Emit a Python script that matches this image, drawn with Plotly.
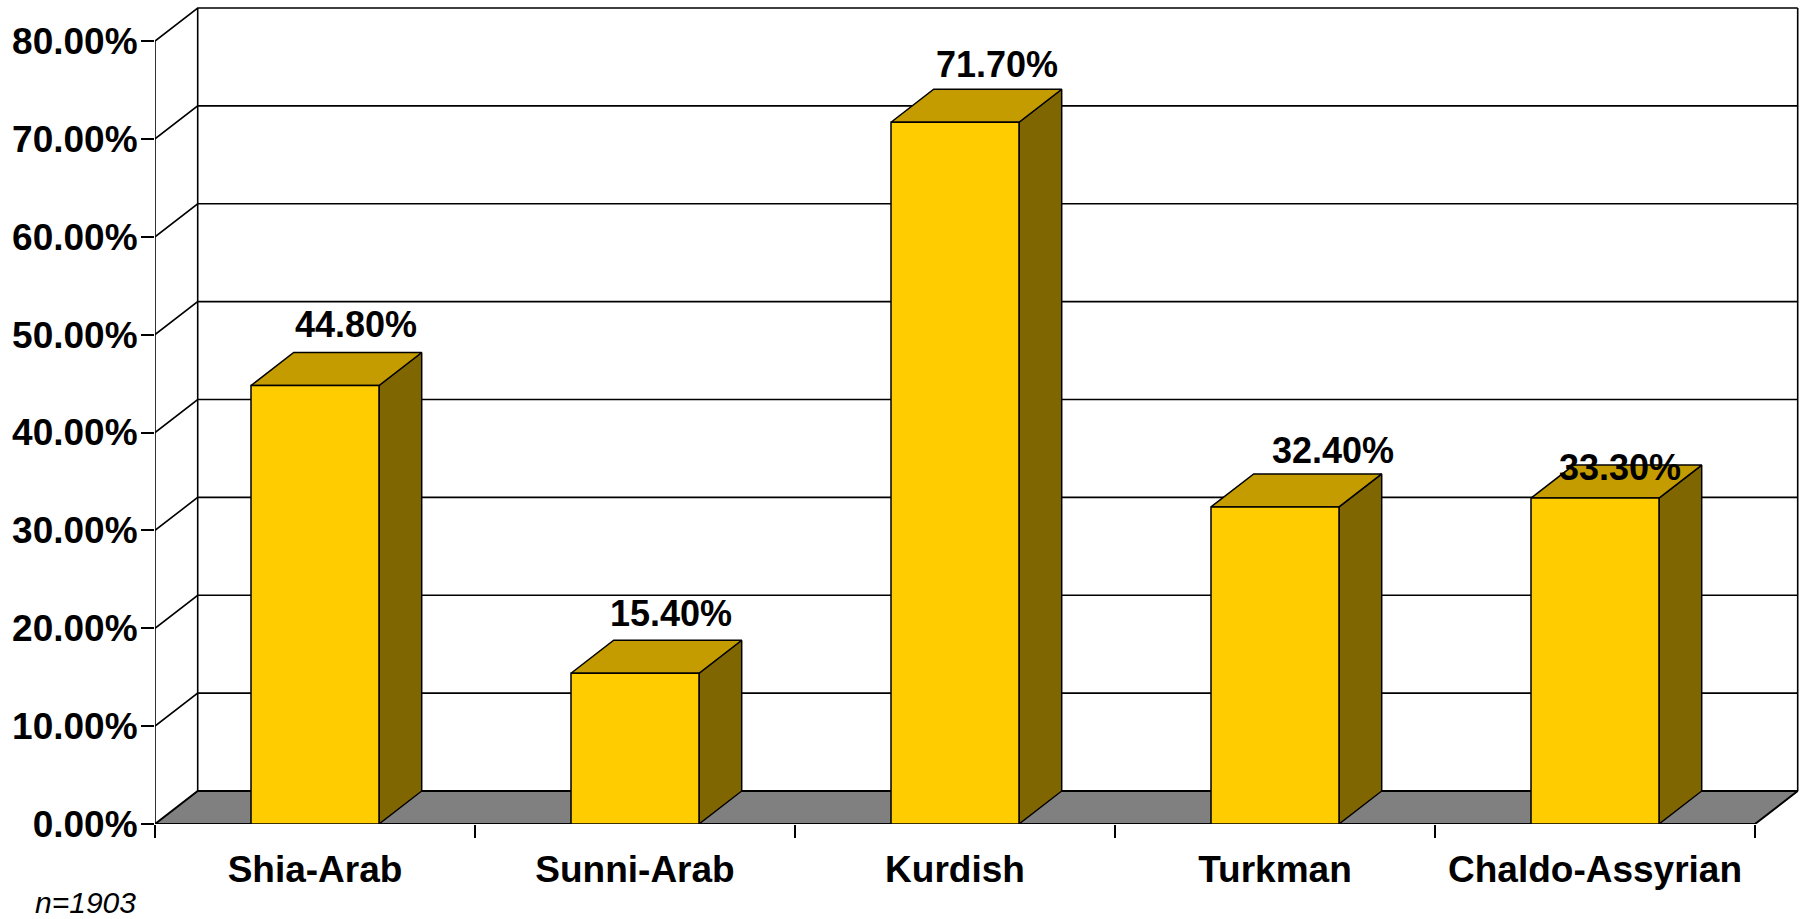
import plotly.graph_objects as go

# ---- data ----
categories = ["Shia-Arab", "Sunni-Arab", "Kurdish", "Turkman", "Chaldo-Assyrian"]
values = [44.8, 15.4, 71.7, 32.4, 33.3]
value_labels = ["44.80%", "15.40%", "71.70%", "32.40%", "33.30%"]
y_ticks = [0, 10, 20, 30, 40, 50, 60, 70, 80]
y_tick_labels = ["0.00%", "10.00%", "20.00%", "30.00%", "40.00%",
                 "50.00%", "60.00%", "70.00%", "80.00%"]
note = "n=1903"

# ---- style / geometry (pixels & axis units) ----
W, H = 1801, 919
ML, MB = 155, 95
PX_X = 320.0          # pixels per category
PX_Y = 9.7875         # pixels per percent
DX = 42.7 / PX_X      # depth offset in x units
DY = 33.0 / PX_Y      # depth offset in y units
HALF = 0.2            # half bar width
YMAX = 80
label_xshift = [40.5, 35.8, 41.5, 57.5, 24.7]
label_yshift = [27.7, 26.7, 24.5, 23.8, -2.3]

FRONT = "#FFCC00"
TOP = "#C49C00"
SIDE = "#806600"
FLOOR = "#808080"
FONT = "Liberation Sans, Arial, sans-serif"

n = len(categories)
fig = go.Figure()

# floor
fig.add_trace(go.Scatter(
    x=[0, n, n + DX, DX, 0], y=[0, 0, DY, DY, 0],
    mode="lines", fill="toself", fillcolor=FLOOR,
    line=dict(color="black", width=2), hoverinfo="skip", showlegend=False))

# back wall gridlines + side wall diagonals + wall edges
gx, gy = [], []
for v in y_ticks[1:]:
    gx += [0, DX, n + DX, None]
    gy += [v, v + DY, v + DY, None]
gx += [DX, DX, None, n + DX, n + DX, None, 0, 0, None]
gy += [DY, YMAX + DY, None, DY, YMAX + DY, None, 0, YMAX, None]
fig.add_trace(go.Scatter(x=gx, y=gy, mode="lines",
                         line=dict(color="black", width=1.6),
                         hoverinfo="skip", showlegend=False))

# bars
for i, v in enumerate(values):
    c = i + 0.5
    l, r = c - HALF, c + HALF
    # side face
    fig.add_trace(go.Scatter(
        x=[r, r + DX, r + DX, r, r], y=[0, DY, v + DY, v, 0],
        mode="lines", fill="toself", fillcolor=SIDE,
        line=dict(color="black", width=1.5), hoverinfo="skip", showlegend=False))
    # top face
    fig.add_trace(go.Scatter(
        x=[l, r, r + DX, l + DX, l], y=[v, v, v + DY, v + DY, v],
        mode="lines", fill="toself", fillcolor=TOP,
        line=dict(color="black", width=1.5), hoverinfo="skip", showlegend=False))
    # front face
    fig.add_trace(go.Scatter(
        x=[l, r, r, l, l], y=[0, 0, v, v, 0],
        mode="lines", fill="toself", fillcolor=FRONT,
        line=dict(color="black", width=1.5), hoverinfo="skip", showlegend=False))
    fig.add_annotation(x=c, y=v + DY, text=value_labels[i], showarrow=False,
                       xshift=label_xshift[i], yshift=label_yshift[i],
                       xanchor="center", yanchor="middle",
                       font=dict(family=FONT, size=36, color="black", weight="bold"))

plot_w = W - ML
plot_h = H - MB
fig.add_annotation(xref="paper", yref="paper",
                   x=(33.0 - ML) / plot_w, y=(plot_h - 902.0) / plot_h,
                   text=note, showarrow=False, xanchor="left", yanchor="middle",
                   font=dict(family=FONT, size=30, color="black", style="italic"))

fig.update_layout(
    width=W, height=H,
    margin=dict(l=ML, r=0, t=0, b=MB, pad=0),
    paper_bgcolor="white", plot_bgcolor="white",
    showlegend=False,
    xaxis=dict(range=[0, plot_w / PX_X], showgrid=False, zeroline=False,
               showline=False, tickvals=[i + 0.5 for i in range(n)],
               ticktext=categories, ticks="",
               tickfont=dict(family=FONT, size=37, color="black", weight="bold"),
               ticklabelstandoff=20,
               minor=dict(tickvals=list(range(n + 1)), ticks="outside",
                          ticklen=13, tickwidth=2, tickcolor="black", showgrid=False),
               fixedrange=True),
    yaxis=dict(range=[0, plot_h / PX_Y], showgrid=False, zeroline=False,
               showline=False, tickvals=y_ticks, ticktext=y_tick_labels,
               ticks="outside", ticklen=13, tickwidth=2, tickcolor="black",
               tickfont=dict(family=FONT, size=37, color="black", weight="bold"),
               ticklabelstandoff=-4,
               fixedrange=True),
)

fig.write_html("out.html", config={"displayModeBar": False},
               post_script="document.body.style.margin='0';document.body.style.overflow='hidden';")
